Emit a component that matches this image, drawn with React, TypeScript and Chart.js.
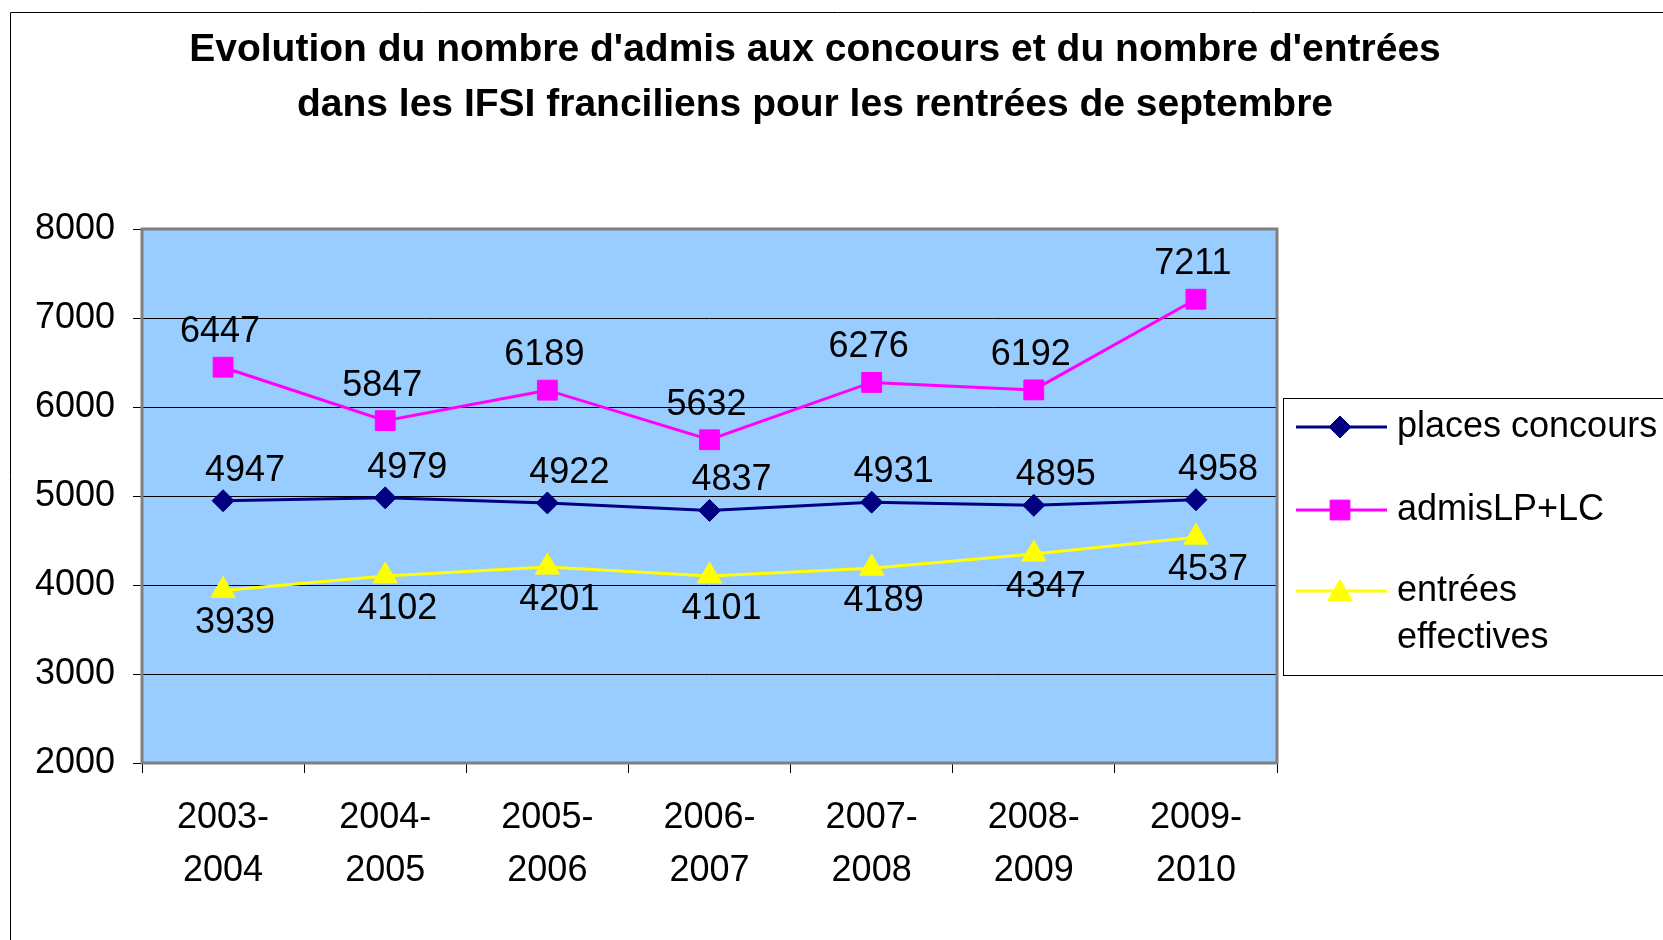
import React, { useEffect, useRef } from 'react';
import { Chart, registerables } from 'chart.js';

Chart.register(...registerables);

const TITLE_LINES = [
  "Evolution du nombre d'admis aux concours et du nombre d'entrées",
  'dans les IFSI franciliens pour les rentrées de septembre',
];
const CATEGORIES = [
  ['2003-', '2004'],
  ['2004-', '2005'],
  ['2005-', '2006'],
  ['2006-', '2007'],
  ['2007-', '2008'],
  ['2008-', '2009'],
  ['2009-', '2010'],
];
const PLACES_CONCOURS = [4947, 4979, 4922, 4837, 4931, 4895, 4958];
const ADMIS_LP_LC = [6447, 5847, 6189, 5632, 6276, 6192, 7211];
const ENTREES_EFFECTIVES = [3939, 4102, 4201, 4101, 4189, 4347, 4537];
const SERIES_NAMES = ['places concours', 'admisLP+LC', 'entrées effectives'];
const Y_MIN = 2000;
const Y_MAX = 8000;
const Y_STEP = 1000;

const FONT = '"Liberation Sans", Arial, Helvetica, sans-serif';
const FS = 36;
const W = 1663;
const H = 940;

const PLOT = { left: 142, top: 229, right: 1277, bottom: 763 };

// per-dataset label offsets (style, not data)
const LABEL_OFFSETS = [
  { dx: 22, dy: -30 },
  { dx: -3, dy: -35 },
  { dx: 12, dy: 33 },
];

function drawMarker(ctx: CanvasRenderingContext2D, style: string, x: number, y: number, r: number, color: string) {
  ctx.save();
  ctx.fillStyle = color;
  ctx.strokeStyle = color;
  ctx.lineWidth = 1;
  ctx.beginPath();
  if (style === 'rectRot') {
    ctx.moveTo(x, y - r);
    ctx.lineTo(x + r, y);
    ctx.lineTo(x, y + r);
    ctx.lineTo(x - r, y);
    ctx.closePath();
  } else if (style === 'rect') {
    const s = r * Math.SQRT1_2;
    ctx.rect(x - s, y - s, 2 * s, 2 * s);
  } else {
    const h = r * 1.5;
    const w = r * Math.sqrt(3);
    ctx.moveTo(x, y - h / 2 - 1);
    ctx.lineTo(x + w / 2, y + h / 2 - 1);
    ctx.lineTo(x - w / 2, y + h / 2 - 1);
    ctx.closePath();
  }
  ctx.fill();
  ctx.stroke();
  ctx.restore();
}

const decorPlugin = {
  id: 'decor',
  beforeDraw(chart: any) {
    const ctx = chart.ctx as CanvasRenderingContext2D;
    ctx.save();
    ctx.fillStyle = '#ffffff';
    ctx.fillRect(0, 0, chart.width, chart.height);
    // outer border
    ctx.strokeStyle = '#000000';
    ctx.lineWidth = 1;
    ctx.beginPath();
    ctx.moveTo(10.5, chart.height + 5);
    ctx.lineTo(10.5, 12.5);
    ctx.lineTo(chart.width + 5, 12.5);
    ctx.stroke();
    // plot background
    const a = chart.chartArea;
    ctx.fillStyle = '#99CCFF';
    ctx.fillRect(a.left, a.top, a.right - a.left, a.bottom - a.top);
    // title
    ctx.fillStyle = '#000000';
    ctx.font = `bold 39px ${FONT}`;
    ctx.textAlign = 'center';
    ctx.textBaseline = 'alphabetic';
    ctx.fillText(TITLE_LINES[0], 815, 61);
    ctx.fillText(TITLE_LINES[1], 815, 116);
    ctx.restore();
  },
  beforeDatasetsDraw(chart: any) {
    const ctx = chart.ctx as CanvasRenderingContext2D;
    const a = chart.chartArea;
    ctx.save();
    ctx.strokeStyle = '#808080';
    ctx.lineWidth = 3;
    ctx.strokeRect(a.left, a.top, a.right - a.left, a.bottom - a.top);
    ctx.restore();
  },
  afterDatasetsDraw(chart: any) {
    const ctx = chart.ctx as CanvasRenderingContext2D;
    ctx.save();
    ctx.fillStyle = '#000000';
    ctx.font = `${FS}px ${FONT}`;
    ctx.textAlign = 'center';
    ctx.textBaseline = 'middle';
    chart.data.datasets.forEach((ds: any, i: number) => {
      const meta = chart.getDatasetMeta(i);
      const off = LABEL_OFFSETS[i];
      meta.data.forEach((el: any, j: number) => {
        ctx.fillText(String(ds.data[j]), el.x + off.dx, el.y + off.dy);
      });
    });
    ctx.restore();

    // legend
    ctx.save();
    ctx.strokeStyle = '#000000';
    ctx.lineWidth = 1;
    ctx.strokeRect(1283.5, 398.5, 500, 277);
    ctx.font = `${FS}px ${FONT}`;
    ctx.textAlign = 'left';
    ctx.textBaseline = 'middle';
    const rowYs = [427, 510, 591];
    const lineH = 47;
    chart.data.datasets.forEach((ds: any, i: number) => {
      const y = rowYs[i];
      ctx.strokeStyle = ds.borderColor;
      ctx.lineWidth = 3;
      ctx.beginPath();
      ctx.moveTo(1296, y);
      ctx.lineTo(1387, y);
      ctx.stroke();
      drawMarker(ctx, ds.pointStyle, 1340, y, ds.pointRadius, ds.borderColor);
      const words = String(ds.label).split(' ');
      const lines: string[] = [];
      let cur = '';
      for (const w of words) {
        const t = cur ? cur + ' ' + w : w;
        if (ctx.measureText(t).width > 275 && cur) {
          lines.push(cur);
          cur = w;
        } else cur = t;
      }
      if (cur) lines.push(cur);
      ctx.fillStyle = '#000000';
      lines.forEach((ln, k) => ctx.fillText(ln, 1397, y + k * lineH));
    });
    ctx.restore();
  },
};

export default function App() {
  const ref = useRef<HTMLCanvasElement | null>(null);
  useEffect(() => {
    if (!ref.current) return;
    const chart = new Chart(ref.current, {
      type: 'line',
      data: {
        labels: CATEGORIES as any,
        datasets: [
          {
            label: SERIES_NAMES[0],
            data: PLACES_CONCOURS,
            borderColor: '#000080',
            backgroundColor: '#000080',
            pointBackgroundColor: '#000080',
            pointBorderColor: '#000080',
            borderWidth: 3,
            pointStyle: 'rectRot',
            pointRadius: 11,
            pointBorderWidth: 1,
            tension: 0,
          },
          {
            label: SERIES_NAMES[1],
            data: ADMIS_LP_LC,
            borderColor: '#FF00FF',
            backgroundColor: '#FF00FF',
            pointBackgroundColor: '#FF00FF',
            pointBorderColor: '#FF00FF',
            borderWidth: 3,
            pointStyle: 'rect',
            pointRadius: 14,
            pointBorderWidth: 1,
            tension: 0,
          },
          {
            label: SERIES_NAMES[2],
            data: ENTREES_EFFECTIVES,
            borderColor: '#FFFF00',
            backgroundColor: '#FFFF00',
            pointBackgroundColor: '#FFFF00',
            pointBorderColor: '#FFFF00',
            borderWidth: 3,
            pointStyle: 'triangle',
            pointRadius: 14,
            pointBorderWidth: 1,
            tension: 0,
          },
        ] as any,
      },
      options: {
        animation: false,
        responsive: false,
        devicePixelRatio: 1,
        layout: {
          padding: { left: 0, top: PLOT.top, right: W - PLOT.right, bottom: 0 },
        },
        plugins: {
          legend: { display: false },
          title: { display: false },
          tooltip: { enabled: false },
        },
        scales: {
          x: {
            type: 'category',
            offset: true,
            grid: {
              offset: true,
              drawOnChartArea: false,
              drawTicks: true,
              tickLength: 10,
              color: '#000000',
              lineWidth: 1,
            },
            border: { display: false },
            ticks: {
              color: '#000000',
              font: { family: FONT, size: FS, lineHeight: 1.47 },
              padding: 19,
              maxRotation: 0,
              autoSkip: false,
            },
            afterFit: (s: any) => {
              s.height = H - PLOT.bottom;
            },
          },
          y: {
            min: Y_MIN,
            max: Y_MAX,
            grid: {
              color: '#000000',
              lineWidth: 1,
              drawTicks: true,
              tickLength: 9,
            },
            border: { display: false },
            ticks: {
              stepSize: Y_STEP,
              color: '#000000',
              font: { family: FONT, size: FS },
              padding: 18,
              callback: (v: any) => String(v),
            },
            afterFit: (s: any) => {
              s.width = PLOT.left;
            },
          },
        },
      } as any,
      plugins: [decorPlugin],
    });
    return () => chart.destroy();
  }, []);
  return (
    <div style={{ position: 'fixed', left: 0, top: 0, width: W, height: H, overflow: 'hidden' }}>
      <canvas ref={ref} width={W} height={H} style={{ display: 'block', width: W, height: H }} />
    </div>
  );
}
